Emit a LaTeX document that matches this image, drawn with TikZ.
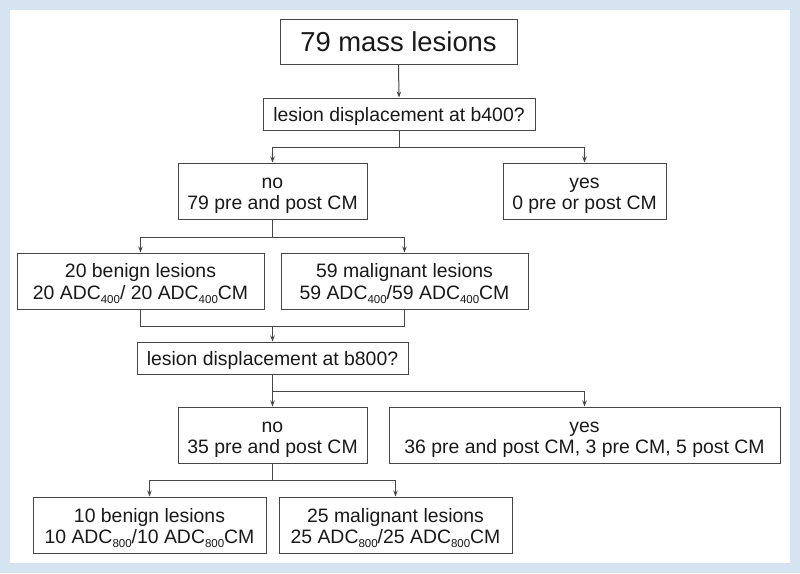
\documentclass[tikz,border=0pt]{standalone}
\usepackage{fontspec}
\setmainfont{Liberation Sans}
\usetikzlibrary{arrows.meta}
\definecolor{bgblue}{RGB}{214,228,241}
\definecolor{linegray}{RGB}{70,70,70}
\definecolor{txt}{RGB}{25,25,25}
\newcommand{\sbs}[1]{\raisebox{-4pt}{\fontsize{11.5}{12}\selectfont #1}}
\newcommand{\tstrut}{\rule{0pt}{19.8pt}}
\newcommand{\bstrut}{\rule[-4.1pt]{0pt}{4.1pt}}
\tikzset{
  box/.style={draw=linegray, line width=1pt, fill=white, align=center, inner sep=0pt,
    text=txt, font=\fontsize{19.4}{21.7}\selectfont},
  conn/.style={draw=linegray, line width=1pt},
  arr/.style={conn, -{Stealth[length=6pt,width=4.5pt]}}
}
\begin{document}
\begin{tikzpicture}[x=1pt,y=-1pt]
\useasboundingbox (0,0) rectangle (800,573);
\fill[bgblue] (0,0) rectangle (800,573);
\fill[white] (10,10) rectangle (790,563);

\node[box, minimum width=237pt, minimum height=45pt, font=\fontsize{27.4}{30}\selectfont] (b1) at (398.5,41.5) {79 mass lesions};
\node[box, minimum width=272pt, minimum height=32pt] (b2) at (399,114) {\tstrut lesion displacement at b400?\bstrut};
\node[box, minimum width=189pt, minimum height=56pt] (b3) at (272.5,191) {\tstrut no\\79 pre and post CM\bstrut};
\node[box, minimum width=163pt, minimum height=56pt] (b4) at (584.5,191) {\tstrut yes\\0 pre or post CM\bstrut};
\node[box, minimum width=247pt, minimum height=56pt] (b5) at (140.5,281) {\tstrut 20 benign lesions\\20 ADC\sbs{400}/ 20 ADC\sbs{400}CM\bstrut};
\node[box, minimum width=247pt, minimum height=56pt] (b6) at (404.5,281) {\tstrut 59 malignant lesions\\59 ADC\sbs{400}/59 ADC\sbs{400}CM\bstrut};
\node[box, minimum width=271pt, minimum height=32pt] (b7) at (272.5,358) {\tstrut lesion displacement at b800?\bstrut};
\node[box, minimum width=189pt, minimum height=56pt] (b8) at (272.5,435) {\tstrut no\\35 pre and post CM\bstrut};
\node[box, minimum width=391pt, minimum height=56pt] (b9) at (584.5,435) {\tstrut yes\\36 pre and post CM, 3 pre CM, 5 post CM\bstrut};
\node[box, minimum width=233pt, minimum height=56pt] (b10) at (149.5,525) {\tstrut 10 benign lesions\\10 ADC\sbs{800}/10 ADC\sbs{800}CM\bstrut};
\node[box, minimum width=233pt, minimum height=56pt] (b11) at (395.5,525) {\tstrut 25 malignant lesions\\25 ADC\sbs{800}/25 ADC\sbs{800}CM\bstrut};

\coordinate (j1) at (399,147);
\coordinate (j2) at (272.5,237);
\coordinate (j3) at (272.5,326);
\coordinate (j4) at (272.5,391);
\coordinate (j5) at (272.5,480);

\draw[arr] (b1.south) -- (b2.north);
\draw[conn] (b2.south) -- (j1);
\draw[arr] (j1) -| (b3.north);
\draw[arr] (j1) -| (b4.north);
\draw[conn] (b3.south) -- (j2);
\draw[arr] (j2) -| (b5.north);
\draw[arr] (j2) -| (b6.north);
\draw[conn] (b5.south) |- (j3);
\draw[conn] (b6.south) |- (j3);
\draw[arr] (j3) -- (b7.north);
\draw[conn] (b7.south) -- (j4);
\draw[arr] (j4) -- (b8.north);
\draw[arr] (j4) -| (b9.north);
\draw[conn] (b8.south) -- (j5);
\draw[arr] (j5) -| (b10.north);
\draw[arr] (j5) -| (b11.north);
\end{tikzpicture}
\end{document}
